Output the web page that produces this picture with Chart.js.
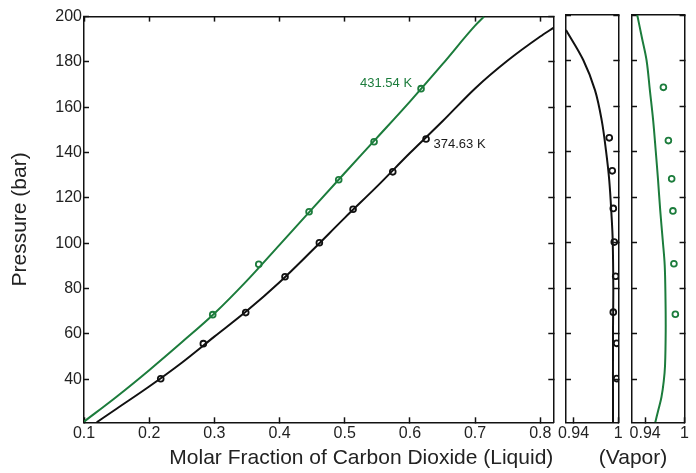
<!DOCTYPE html>
<html>
<head>
<meta charset="utf-8">
<script src="https://cdn.jsdelivr.net/npm/chart.js@4.4.1/dist/chart.umd.min.js"></script>
<style>
html,body{margin:0;padding:0;background:#fff;}
#wrap{position:relative;width:696px;height:473px;overflow:hidden;background:#fff;}
#wrap canvas{position:absolute;left:0;top:0;}
</style>
</head>
<body>
<div id="wrap">
<canvas id="cMain" width="696" height="473"></canvas>
<canvas id="cV1" width="696" height="473"></canvas>
<canvas id="cV2" width="696" height="473"></canvas>
</div>
<script>
// ---------- data ----------
// 374.63 K isotherm: model curve, liquid side
const liqCurveX_374 = [0.1195, 0.15, 0.2, 0.25, 0.3, 0.35, 0.4, 0.45, 0.5, 0.55, 0.6, 0.65, 0.7, 0.75, 0.8, 0.82];
const liqCurveP_374 = [21, 27, 36.8, 47.3, 58.8, 70.2, 82.8, 96.8, 111.2, 125.2, 139.8, 153.8, 168.3, 180.6, 191.2, 195];
// 431.54 K isotherm: model curve, liquid side
const liqCurveX_431 = [0.1, 0.15, 0.2, 0.25, 0.3, 0.35, 0.4, 0.45, 0.5, 0.55, 0.6, 0.65, 0.7, 0.7138];
const liqCurveP_431 = [21.3, 32.3, 44.0, 56.3, 69.0, 83.5, 99.3, 115.2, 131, 146.7, 162.5, 179, 196, 200];
// experimental points (pressure shared by liquid and vapor composition)
const expP_374 = [40.2, 55.7, 69.4, 85.2, 100.2, 115.0, 131.5, 146.0];
const expLiqX_374 = [0.2177, 0.2831, 0.3481, 0.4084, 0.4611, 0.5128, 0.5737, 0.6248];
const expVapY_374 = [0.9978, 0.9978, 0.9933, 0.9965, 0.9946, 0.9933, 0.9919, 0.9879];
const expP_431 = [68.5, 90.7, 113.9, 128.0, 144.8, 168.2];
const expLiqX_431 = [0.2975, 0.3681, 0.4453, 0.4908, 0.5450, 0.6171];
const expVapY_431 = [0.9860, 0.9838, 0.9823, 0.9804, 0.9754, 0.9678];
// model curves, vapor side
const vapCurveY_374 = [0.93, 0.9531, 0.9688, 0.9778, 0.9835, 0.9879, 0.9911, 0.9925, 0.9933, 0.9929, 0.9929];
const vapCurveP_374 = [193.4, 180.2, 167, 153.7, 140.5, 127.3, 111, 101, 80, 60, 21];
const vapCurveY_431 = [0.928, 0.9351, 0.9422, 0.9472, 0.9522, 0.9562, 0.9597, 0.963, 0.9668, 0.9698, 0.971, 0.9713, 0.9703, 0.9683, 0.9648, 0.9597, 0.9555];
const vapCurveP_431 = [200, 190, 180, 167, 153.7, 140, 127.3, 114, 101, 90, 75, 61, 46, 39, 32, 26, 21];
// series names
const seriesNames = ['374.63 K', '431.54 K'];
// ticks
const liqXTicks = [0.1, 0.2, 0.3, 0.4, 0.5, 0.6, 0.7, 0.8];
const liqXTickLabels = ['0.1', '0.2', '0.3', '0.4', '0.5', '0.6', '0.7', '0.8'];
const pTicks = [40, 60, 80, 100, 120, 140, 160, 180, 200];
const pTickLabels = ['40', '60', '80', '100', '120', '140', '160', '180', '200'];
const vapXTicks = [0.94, 1];
const vapXTickLabels = ['0.94', '1'];

// ---------- styling ----------
const FONT = "'Liberation Sans', Arial, Helvetica, sans-serif";
const BLACK = '#111111';
const GREEN = '#1c7c3c';
const TXT = '#222222';
const AXW = 1.5;

function zip(xs, ys) { return xs.map((x, i) => ({x: x, y: ys[i]})); }
function fixTicks(vals) { return s => { s.ticks = vals.map(v => ({value: v})); }; }

function curve(data, color, monotone) {
  const d = {data: data, showLine: true, borderColor: color, borderWidth: 2, pointRadius: 0,
          pointHoverRadius: 0, fill: false};
  if (monotone) { d.cubicInterpolationMode = 'monotone'; } else { d.tension = 0.35; }
  return d;
}
function markers(data, color) {
  return {data: data, showLine: false, borderColor: color, backgroundColor: 'rgba(0,0,0,0)',
          pointRadius: 2.9, pointBorderWidth: 1.8, pointStyle: 'circle'};
}
function axisGrid(len) {
  return {drawOnChartArea: false, drawTicks: len !== 0, tickLength: len, color: BLACK, tickWidth: AXW};
}
function border() { return {display: true, color: BLACK, width: AXW}; }

function baseOptions(xmin, xmax, pad, xAxisExtra, yAxisExtra, topTicks) {
  return {
    responsive: false, animation: false, events: [],
    layout: {padding: pad},
    plugins: {legend: {display: false}, tooltip: {enabled: false}},
    scales: {
      x: Object.assign({
        type: 'linear', position: 'bottom', min: xmin, max: xmax,
        grid: axisGrid(-5), border: border(),
        afterFit: s => { s.height = 50.7; }
      }, xAxisExtra),
      x2: {
        type: 'linear', position: 'top', min: xmin, max: xmax,
        afterBuildTicks: fixTicks(topTicks), ticks: {display: false},
        grid: axisGrid(topTicks.length ? -5 : 0), border: border(),
        afterFit: s => { s.height = 0; }
      },
      y: Object.assign({
        type: 'linear', position: 'left', min: 21, max: 200,
        afterBuildTicks: fixTicks(pTicks),
        grid: axisGrid(-5), border: border()
      }, yAxisExtra),
      y2: {
        type: 'linear', position: 'right', min: 21, max: 200,
        afterBuildTicks: fixTicks(pTicks), ticks: {display: false},
        grid: axisGrid(-5), border: border(),
        afterFit: s => { s.width = 0; }
      }
    }
  };
}

// ---------- main (liquid) chart ----------
const labelPlugin = {
  id: 'isoLabels',
  afterDatasetsDraw(chart) {
    const {ctx, scales} = chart;
    ctx.save();
    ctx.font = '13px ' + FONT;
    ctx.textBaseline = 'middle';
    // 431.54 K label, left of its last experimental point
    const gi = expLiqX_431.length - 1;
    ctx.fillStyle = GREEN; ctx.textAlign = 'right';
    ctx.fillText(seriesNames[1], scales.x.getPixelForValue(expLiqX_431[gi]) - 9,
                 scales.y.getPixelForValue(expP_431[gi]) - 5.5);
    // 374.63 K label, right of its last experimental point
    const bi = expLiqX_374.length - 1;
    ctx.fillStyle = '#1a1a1a'; ctx.textAlign = 'left';
    ctx.fillText(seriesNames[0], scales.x.getPixelForValue(expLiqX_374[bi]) + 7.5,
                 scales.y.getPixelForValue(expP_374[bi]) + 5.5);
    ctx.restore();
  }
};

const mainOpts = baseOptions(0.1, 0.82, {left: 0, top: 15, right: 696 - 553.3, bottom: 0}, {
  afterBuildTicks: fixTicks(liqXTicks),
  ticks: {padding: 7, color: TXT, font: {family: FONT, size: 16}, autoSkip: false, maxRotation: 0,
          callback: (v, i) => liqXTickLabels[i]},
  title: {display: true, text: 'Molar Fraction of Carbon Dioxide (Liquid)', align: 'end', color: TXT,
          font: {family: FONT, size: 21}, padding: {top: 0, bottom: 2}}
}, {
  afterFit: s => { s.width = 84; },
  ticks: {padding: 7, color: TXT, font: {family: FONT, size: 16}, autoSkip: false,
          callback: (v, i) => pTickLabels[i]},
  title: {display: true, text: 'Pressure (bar)', color: TXT, font: {family: FONT, size: 21},
          padding: {top: 8, bottom: 0}}
}, liqXTicks);

new Chart(document.getElementById('cMain'), {
  type: 'scatter',
  data: {datasets: [
    curve(zip(liqCurveX_431, liqCurveP_431), GREEN, true),
    curve(zip(liqCurveX_374, liqCurveP_374), BLACK, true),
    markers(zip(expLiqX_431, expP_431), GREEN),
    markers(zip(expLiqX_374, expP_374), BLACK)
  ]},
  options: mainOpts,
  plugins: [labelPlugin]
});

// ---------- vapor panels ----------
function vaporYAxis() {
  return {ticks: {display: false}, afterFit: s => { s.width = 0; }};
}
function vaporXAxis() {
  return {
    afterBuildTicks: fixTicks(vapXTicks),
    ticks: {padding: 7, color: TXT, font: {family: FONT, size: 16}, autoSkip: false, maxRotation: 0,
            callback: (v, i) => vapXTickLabels[i]}
  };
}

new Chart(document.getElementById('cV1'), {
  type: 'scatter',
  data: {datasets: [
    curve(zip(vapCurveY_374, vapCurveP_374), BLACK, false),
    markers(zip(expVapY_374, expP_374), BLACK)
  ]},
  options: baseOptions(0.93, 1.0, {left: 566, top: 15, right: 696 - 618.3, bottom: 0},
                       vaporXAxis(), vaporYAxis(), [])
});

const vaporTitle = {
  id: 'vaporTitle',
  afterDraw(chart) {
    const {ctx, chartArea} = chart;
    ctx.save();
    ctx.font = '21px ' + FONT;
    ctx.fillStyle = TXT;
    ctx.textAlign = 'center';
    ctx.textBaseline = 'middle';
    ctx.fillText('(Vapor)', chartArea.left + 1, chartArea.bottom + 36);
    ctx.restore();
  }
};

new Chart(document.getElementById('cV2'), {
  type: 'scatter',
  data: {datasets: [
    curve(zip(vapCurveY_431, vapCurveP_431), GREEN, false),
    markers(zip(expVapY_431, expP_431), GREEN)
  ]},
  options: baseOptions(0.92, 1.0, {left: 632, top: 15, right: 696 - 685, bottom: 0},
                       vaporXAxis(), vaporYAxis(), []),
  plugins: [vaporTitle]
});
</script>
</body>
</html>
